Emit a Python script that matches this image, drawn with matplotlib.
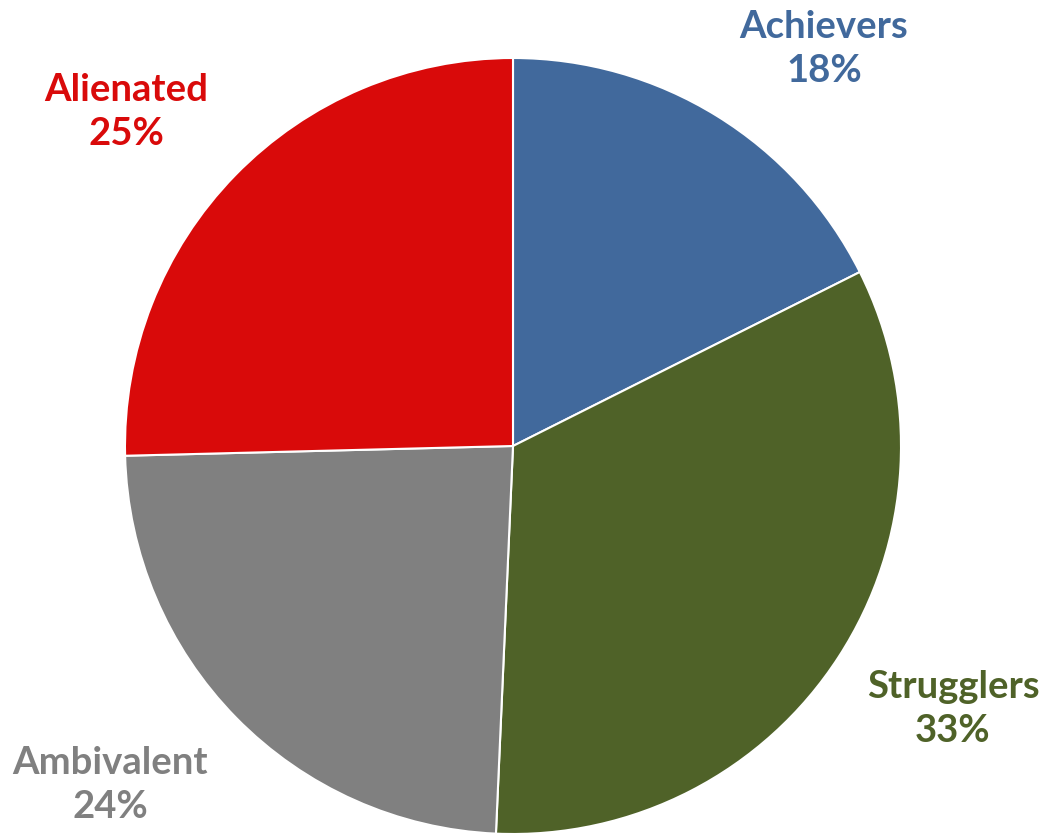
import matplotlib.pyplot as plt

labels = ["Achievers", "Strugglers", "Ambivalent", "Alienated"]
values = [17.6, 33.1, 23.9, 25.4]
colors = ["#41699C", "#4F6228", "#808080", "#D90A0A"]

# label anchor points in pixel space (x, y from top)
label_pos = [(824, 49), (953, 709), (110, 785), (126, 112)]

W, H = 1051, 836
fig = plt.figure(figsize=(W / 100, H / 100), dpi=100)
ax = fig.add_axes([0, 0, 1, 1])

ax.pie(values, colors=colors, startangle=90, counterclock=False,
       center=(513, H - 446), radius=388, frame=True,
       wedgeprops=dict(edgecolor="white", linewidth=1.5))
ax.set_xlim(0, W)
ax.set_ylim(0, H)
ax.axis("off")

for lab, v, c, (px, py) in zip(labels, values, colors, label_pos):
    ax.text(px, H - py, f"{lab}\n{round(v)}%", color=c, ha="center", va="center",
            fontsize=27.5, fontweight="bold", family="Lato", linespacing=1.33)

fig.savefig("out.png", dpi=100)
